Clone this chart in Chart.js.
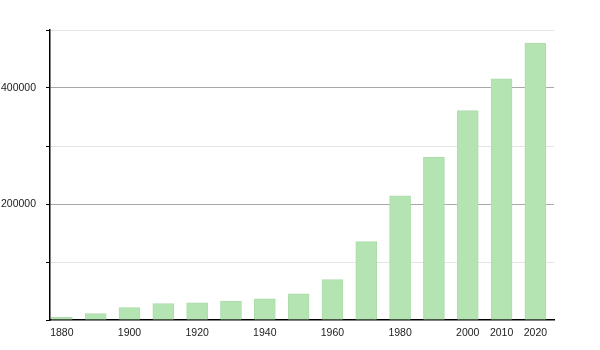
<!DOCTYPE html>
<html>
<head>
<meta charset="utf-8">
<script src="https://cdn.jsdelivr.net/npm/chart.js@4/dist/chart.umd.min.js"></script>
<style>
  html, body { margin: 0; padding: 0; background: #fff; }
  #wrap { width: 600px; height: 350px; }
</style>
</head>
<body>
<div id="wrap"><canvas id="chart" width="600" height="350"></canvas></div>
<script>
// population per census year
const years = [1880, 1890, 1900, 1910, 1920, 1930, 1940, 1950, 1960, 1970, 1980, 1990, 2000, 2010, 2020];
const population = [4500, 10900, 21200, 28100, 29800, 32800, 36700, 45300, 69500, 135000, 214300, 281000, 360900, 416000, 477600];
const xTickYears = [1880, 1900, 1920, 1940, 1960, 1980, 2000, 2010, 2020];
const yLabelled = [200000, 400000];

const FONT = { family: '"Liberation Sans", Arial, sans-serif', size: 10.5 };

new Chart(document.getElementById('chart'), {
  type: 'bar',
  data: {
    datasets: [{
      data: years.map((y, i) => ({ x: y, y: population[i] })),
      backgroundColor: '#b3e4b1',
      borderColor: '#acdcaa',
      borderWidth: 1,
      barThickness: 21
    }]
  },
  options: {
    responsive: false,
    animation: false,
    layout: { padding: { top: 30, right: 46, bottom: 0, left: 0 } },
    plugins: { legend: { display: false }, tooltip: { enabled: false } },
    scales: {
      x: {
        type: 'linear',
        offset: false,
        min: 1876.5, max: 2025.5,
        afterBuildTicks: s => { s.ticks = xTickYears.map(v => ({ value: v })); },
        afterFit: s => { s.height = 30; },
        grid: { display: false, drawTicks: false, offset: false },
        border: { display: true, color: '#000', width: 1.5 },
        ticks: { font: FONT, color: '#222', padding: 7, maxRotation: 0, autoSkip: false, callback: v => String(v) }
      },
      y: {
        min: 0, max: 500000,
        afterFit: s => { s.width = 50; },
        grid: {
          color: c => c.tick.value === 0 ? 'rgba(0,0,0,0)' : (yLabelled.includes(c.tick.value) ? '#a8a8a8' : '#e4e4e4'),
          tickColor: '#000',
          tickLength: 4,
          lineWidth: 1
        },
        border: { display: true, color: '#000', width: 1.5 },
        ticks: {
          stepSize: 100000,
          font: FONT, color: '#222', padding: 10,
          callback: v => yLabelled.includes(v) ? String(v) : ''
        }
      }
    }
  }
});
</script>
</body>
</html>
